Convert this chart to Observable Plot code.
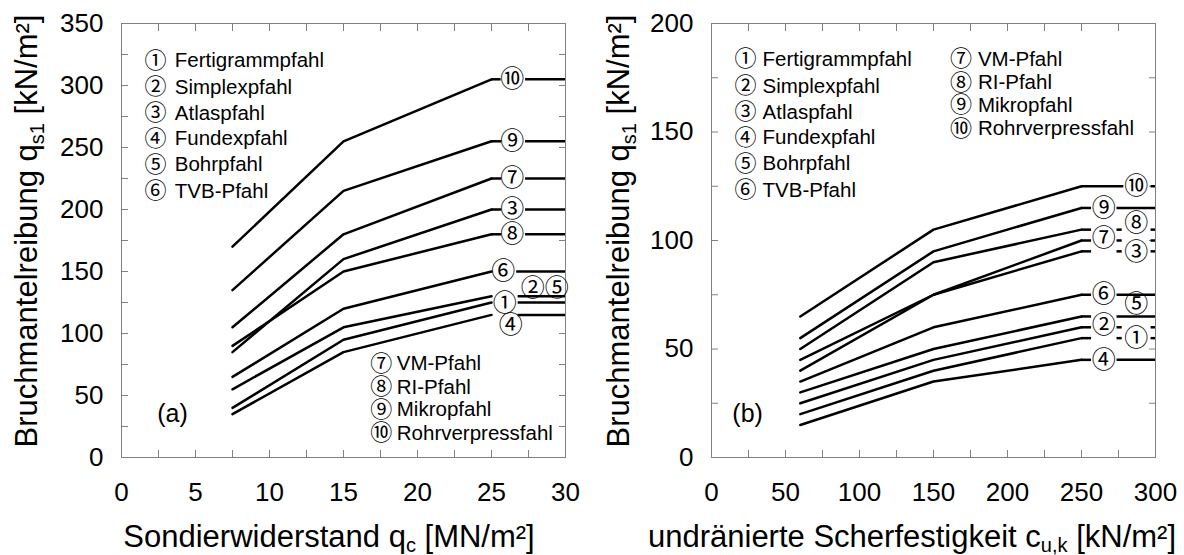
<!DOCTYPE html>
<html><head><meta charset="utf-8">
<script src="https://cdn.jsdelivr.net/npm/d3@7"></script>
<script src="https://cdn.jsdelivr.net/npm/@observablehq/plot@0.6"></script>
<style>
body{margin:0;background:#fff;}
#wrap{display:flex;width:1184px;height:555px;}
</style></head><body><div id="wrap"></div>
<script>
// ---- shared legend ----
const pileIds = ["①","②","③","④","⑤","⑥","⑦","⑧","⑨","⑩"];
const pileNames = ["Fertigrammpfahl","Simplexpfahl","Atlaspfahl","Fundexpfahl","Bohrpfahl","TVB-Pfahl","VM-Pfahl","RI-Pfahl","Mikropfahl","Rohrverpressfahl"];

// ---- panel (a): Sondierwiderstand ----
const qcPoints = [7.5, 15, 25];
const lineIdsA = ["⑩","⑨","⑦","③","⑧","⑥","②⑤","①","④"];
const qsA = [[170,255,305],[135,215,255],[105,180,225],[85,160,200],[90,150,180],[65,120,150],[55,105,130],[40,95,125],[35,85,115]];
const tailsA = [
  [[25,25.65],[27.3,30]],[[25,25.7],[27.3,30]],[[25,25.7],[27.3,30]],[[25,25.7],[27.3,30]],[[25,25.7],[27.3,30]],
  [[26.7,30]],[[26.8,30]],[[26.8,30]],[[26.8,30]]
];
const labelXA = [26.4,26.4,26.4,26.4,26.4,25.8,28.6,25.9,26.3];
const labelYA = [305,255,225,200,180,150,136.6,124.5,106.5];
const xTicksA = [0,5,10,15,20,25,30];
const xMinorA = [0,2.5,5,7.5,10,12.5,15,17.5,20,22.5,25,27.5,30];
const yTicksA = [0,50,100,150,200,250,300,350];
const yMinorA = [0,25,50,75,100,125,150,175,200,225,250,275,300,325,350];
const legendA1Y = [320,298.5,277.5,257,236,214.7];
const legendA2Y = [75.6,56.7,38.4,19.6];

// ---- panel (b): undränierte Scherfestigkeit ----
const cuPoints = [60, 150, 250];
const lineIdsB = ["⑩","⑨","⑧","⑦","③","⑥","⑤","②","①","④"];
const qsB = [[65,105,125],[55,95,115],[50,90,105],[40,75,100],[45,75,95],[35,60,75],[30,50,65],[25,45,60],[20,40,55],[15,35,45]];
const tailsB = [
  [[250,278.6],[297,300]],
  [[250,256.8],[274,300]],
  [[250,256.8],[274,277.5],[297,300]],
  [[250,256.8],[274,277.5],[297,300]],
  [[250,256.8],[274,277.5],[297,300]],
  [[250,256.8],[274,300]],
  [[250,256.8],[274,300]],
  [[250,256.8],[274,277.5],[297,300]],
  [[250,256.8],[274,277.5],[297,300]],
  [[250,256.8],[274,300]]
];
const labelXB = [287,265,287,265,287,265,287,265,287,265];
const labelYB = [125,115,108,101,94.6,75,70.8,60.8,54.7,45];
const xTicksB = [0,50,100,150,200,250,300];
const xMinorB = [0,25,50,75,100,125,150,175,200,225,250,275,300];
const yTicksB = [0,50,100,150,200];
const yMinorB = [0,25,50,75,100,125,150,175,200];
const legendB1Y = [183.5,171.2,159.2,147.4,135.4,123.1];
const legendB2Y = [183.5,172.8,162.3,151.5];

const FONT = "'Liberation Sans', Arial, 'Noto Sans CJK JP', sans-serif";
const CIRC = "'Noto Sans CJK JP', 'DejaVu Sans', sans-serif";
const GRAY = "#808080";

function panel(cfg) {
  const lineRows = [];
  cfg.ids.forEach((id, i) => cfg.vals[i].forEach((v, j) => lineRows.push({id, x: cfg.xs[j], y: v})));
  const tailRows = [];
  cfg.ids.forEach((id, i) => cfg.tails[i].forEach(([a, b]) => tailRows.push({id, x1: a, x2: b, y: cfg.vals[i][cfg.vals[i].length - 1]})));
  const labelRows = cfg.ids.map((id, i) => ({id, x: cfg.lx[i], y: cfg.ly[i]}));
  const leg1 = cfg.leg1Y.map((y, i) => ({y, c: pileIds[i], t: pileNames[i]}));
  const leg2 = cfg.leg2Y.map((y, i) => ({y, c: pileIds[i + 6], t: pileNames[i + 6]}));
  const svg = Plot.plot({
    width: 592, height: 555,
    marginLeft: cfg.ml, marginRight: cfg.mr, marginTop: 23, marginBottom: 98,
    x: {domain: cfg.xd, label: null},
    y: {domain: cfg.yd, label: null},
    style: {fontFamily: FONT, background: "white", color: "black"},
    marks: [
      Plot.axisX(cfg.xMinor, {anchor: "bottom", tickSize: -7, fill: "none", stroke: GRAY, label: null}),
      Plot.axisX(cfg.xMinor, {anchor: "top", tickSize: -7, fill: "none", stroke: GRAY, label: null}),
      Plot.axisY(cfg.yMinor, {anchor: "left", tickSize: -7, fill: "none", stroke: GRAY, label: null}),
      Plot.axisY(cfg.yMinor, {anchor: "right", tickSize: -7, fill: "none", stroke: GRAY, label: null}),
      Plot.axisX(cfg.xTicks, {anchor: "bottom", tickSize: 0, tickPadding: 25, fontSize: 26, label: null}),
      Plot.axisY(cfg.yTicks, {anchor: "left", tickSize: 0, tickPadding: 18, fontSize: 26, label: null}),
      Plot.frame({stroke: GRAY}),
      Plot.line(lineRows, {x: "x", y: "y", z: "id", stroke: "black", strokeWidth: 2.5, strokeLinejoin: "miter"}),
      Plot.ruleY(tailRows, {x1: "x1", x2: "x2", y: "y", stroke: "black", strokeWidth: 2.5}),
      Plot.text(labelRows, {x: "x", y: "y", text: "id", fontSize: 24, fontFamily: CIRC, fill: "black"}),
      Plot.text(leg1, {x: cfg.leg1C, y: "y", text: "c", fontSize: 22, fontFamily: CIRC, fill: "black"}),
      Plot.text(leg1, {x: cfg.leg1X, y: "y", text: "t", textAnchor: "start", fontSize: 20.5, fill: "black"}),
      Plot.text(leg2, {x: cfg.leg2C, y: "y", text: "c", fontSize: 22, fontFamily: CIRC, fill: "black"}),
      Plot.text(leg2, {x: cfg.leg2X, y: "y", text: "t", textAnchor: "start", fontSize: 20.5, fill: "black"}),
      Plot.text([cfg.tag], {x: cfg.tagX, y: cfg.tagY, text: d => d, fontSize: 25, fill: "black"})
    ]
  });
  const s = d3.select(svg);
  const xt = s.append("text").attr("x", cfg.titleX).attr("y", 547).attr("text-anchor", "middle")
    .style("font-size", "31px").style("font-family", FONT).attr("fill", "black");
  xt.append("tspan").text(cfg.xTitle[0]);
  xt.append("tspan").attr("dy", 5).style("font-size", "20px").text(cfg.xTitle[1]);
  xt.append("tspan").attr("dy", -5).text(cfg.xTitle[2]);
  const yt = s.append("text").attr("transform", "translate(37,231) rotate(-90)").attr("text-anchor", "middle")
    .style("font-size", "31px").style("font-family", FONT).attr("fill", "black");
  yt.append("tspan").text("Bruchmantelreibung q");
  yt.append("tspan").attr("dy", 7).style("font-size", "20px").text("s1");
  yt.append("tspan").attr("dy", -7).text(" [kN/m²]");
  return svg;
}

const wrap = document.getElementById("wrap");
wrap.appendChild(panel({
  ids: lineIdsA, vals: qsA, xs: qcPoints, tails: tailsA, lx: labelXA, ly: labelYA,
  xd: [0, 30], yd: [0, 350], ml: 121, mr: 27,
  xTicks: xTicksA, xMinor: xMinorA, yTicks: yTicksA, yMinor: yMinorA,
  leg1Y: legendA1Y, leg1C: 2.3, leg1X: 3.6, leg2Y: legendA2Y, leg2C: 17.55, leg2X: 18.6,
  tag: "(a)", tagX: 3.45, tagY: 35.3,
  titleX: 329, xTitle: ["Sondierwiderstand q", "c", " [MN/m²]"]
}));
wrap.appendChild(panel({
  ids: lineIdsB, vals: qsB, xs: cuPoints, tails: tailsB, lx: labelXB, ly: labelYB,
  xd: [0, 300], yd: [0, 200], ml: 119, mr: 29,
  xTicks: xTicksB, xMinor: xMinorB, yTicks: yTicksB, yMinor: yMinorB,
  leg1Y: legendB1Y, leg1C: 23, leg1X: 34.5, leg2Y: legendB2Y, leg2C: 168.5, leg2X: 180,
  tag: "(b)", tagX: 24.4, tagY: 20,
  titleX: 320, xTitle: ["undränierte Scherfestigkeit c", "u,k", " [kN/m²]"]
}));
</script></body></html>
